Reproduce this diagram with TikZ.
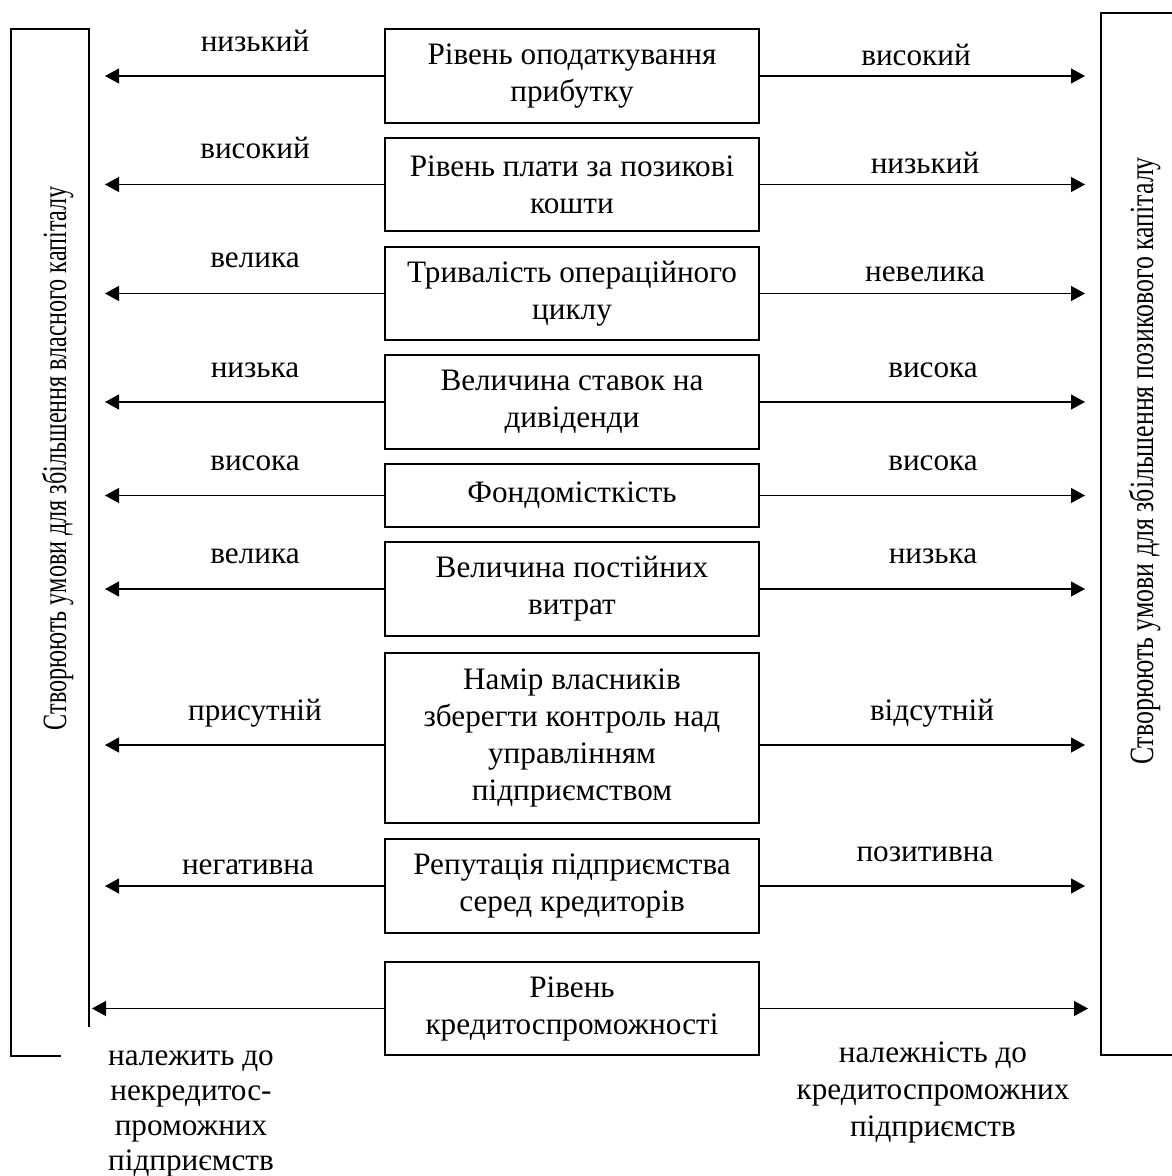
\documentclass[tikz,border=0pt]{standalone}
\usepackage{fontspec}
\setmainfont{Liberation Serif}
\newfontfamily\ownfont{Liberation Serif}[FakeStretch=0.71]
\newfontfamily\debtfont{Liberation Serif}[FakeStretch=0.76]
\usetikzlibrary{arrows.meta,positioning}

\begin{document}
\begin{tikzpicture}[x=0.5pt,y=-0.5pt,every node/.style={font=\fontsize{15.6pt}{18.5pt}\selectfont},
  fac/.style={draw,line width=0.6pt,minimum width=187pt,align=center,inner sep=0pt},
  lbl/.style={anchor=base},
  arr/.style={line width=0.6pt,-{Triangle[length=7pt,width=7.5pt]}},
  side/.style={rotate=90,anchor=base,font=\fontsize{17pt}{20pt}\selectfont}]
                                \useasboundingbox (0,0) rectangle (1171,1176);
                                \draw[line width=0.6pt] (61,1056) -- (11,1056) -- (11,29) -- (89,29) -- (89,1027);
                                \draw[line width=0.6pt] (1175,13) -- (1101,13) -- (1101,1055) -- (1175,1055);
                                \node[side] (own) at (66,458) {\ownfont Створюють умови для збільшення власного капіталу};
                                \node[side] (debt) at (1153,461) {\debtfont Створюють умови для збільшення позикового капіталу};

                                \node[fac,minimum height=47pt] (b1) at (572,76) {Рівень оподаткування\\прибутку};
                                \node[fac,minimum height=46.5pt] (b2) at (572,184.5) {Рівень плати за позикові\\кошти};
                                \node[fac,minimum height=46.5pt] (b3) at (572,293.5) {Тривалість операційного\\циклу};
                                \node[fac,minimum height=47pt] (b4) at (572,402) {Величина ставок на\\дивіденди};
                                \node[fac,minimum height=31.5pt] (b5) at (572,495.5) {Фондомісткість};
                                \node[fac,minimum height=47pt] (b6) at (572,589) {Величина постійних\\витрат};
                                \node[fac,minimum height=85pt] (b7) at (572,738) {Намір власників\\зберегти контроль над\\управлінням\\підприємством};
                                \node[fac,minimum height=47pt] (b8) at (572,886) {Репутація підприємства\\серед кредиторів};
                                \node[fac,minimum height=46.5pt] (b9) at (572,1008.5) {Рівень\\кредитоспроможності};

                                \coordinate (l1) at (105,76);    \coordinate (r1) at (1085,76);
                                \coordinate (l2) at (105,184.5); \coordinate (r2) at (1085,184.5);
                                \coordinate (l3) at (105,293.5); \coordinate (r3) at (1085,293.5);
                                \coordinate (l4) at (105,402);   \coordinate (r4) at (1085,402);
                                \coordinate (l5) at (105,495.5); \coordinate (r5) at (1085,495.5);
                                \coordinate (l6) at (105,589);   \coordinate (r6) at (1085,589);
                                \coordinate (l7) at (105,745);   \coordinate (r7) at (1085,745);
                                \coordinate (l8) at (105,886);   \coordinate (r8) at (1085,886);
                                \coordinate (l9) at (92,1008.5); \coordinate (r9) at (1088,1008.5);
                                \draw[arr] (b1.west) -- (l1); \draw[arr] (b1.east) -- (r1);
                                \draw[arr] (b2.west) -- (l2); \draw[arr] (b2.east) -- (r2);
                                \draw[arr] (b3.west) -- (l3); \draw[arr] (b3.east) -- (r3);
                                \draw[arr] (b4.west) -- (l4); \draw[arr] (b4.east) -- (r4);
                                \draw[arr] (b5.west) -- (l5); \draw[arr] (b5.east) -- (r5);
                                \draw[arr] (b6.west) -- (l6); \draw[arr] (b6.east) -- (r6);
                                \draw[arr] (b7.west |- l7) -- (l7); \draw[arr] (b7.east |- r7) -- (r7);
                                \draw[arr] (b8.west) -- (l8); \draw[arr] (b8.east) -- (r8);
                                \draw[arr] (b9.west) -- (l9); \draw[arr] (b9.east) -- (r9);

                                \node[lbl] (t1l) at (255,52) {низький};    \node[lbl] (t1r) at (916,66) {високий};
                                \node[lbl] (t2l) at (255,159) {високий};   \node[lbl] (t2r) at (925,174) {низький};
                                \node[lbl] (t3l) at (255,268) {велика};    \node[lbl] (t3r) at (925,282) {невелика};
                                \node[lbl] (t4l) at (255,377) {низька};    \node[lbl] (t4r) at (933,377) {висока};
                                \node[lbl] (t5l) at (255,470) {висока};    \node[lbl] (t5r) at (933,470) {висока};
                                \node[lbl] (t6l) at (255,563) {велика};    \node[lbl] (t6r) at (933,563) {низька};
                                \node[lbl] (t7l) at (255,720) {присутній}; \node[lbl] (t7r) at (932,720) {відсутній};
                                \node[lbl] (t8l) at (248,874) {негативна}; \node[lbl] (t8r) at (925,861) {позитивна};

                                \node[align=center,font=\fontsize{15.6pt}{17.5pt}\selectfont,anchor=north] (nonc) at (191,1044) {належить до\\некредитос-\\проможних\\підприємств};
                                \node[align=center,anchor=north] (cred) at (933,1035) {належність до\\кредитоспроможних\\підприємств};
                            \end{tikzpicture}
\end{document}
